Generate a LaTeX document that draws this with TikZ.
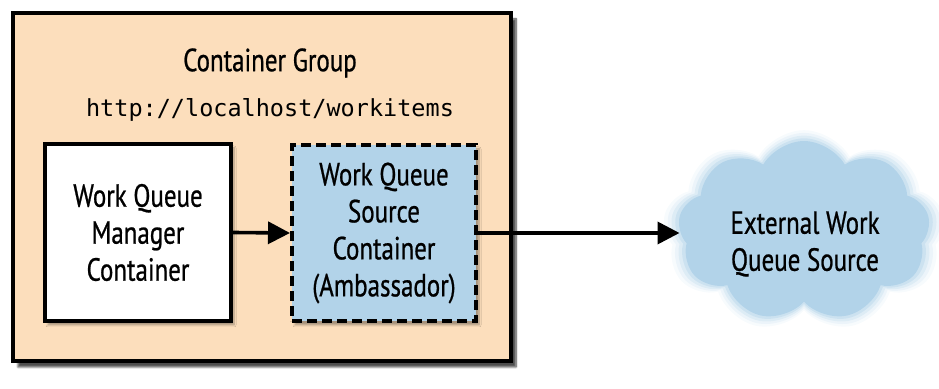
\documentclass[tikz,border=0pt]{standalone}
\usepackage{fontspec}
\setmainfont{PT Sans}[FakeStretch=0.78,FakeBold=0.7]
\setmonofont{DejaVu Sans Mono}
\usetikzlibrary{shadows.blur,shapes.symbols,arrows.meta}
\definecolor{peach}{RGB}{252,222,188}
\definecolor{lblue}{RGB}{178,211,233}
\tikzset{
  lbl/.style={font=\fontsize{32}{37}\selectfont, align=center},
  boxstyle/.style={draw=black, line width=4pt, inner sep=0pt, lbl,
    blur shadow={shadow xshift=3pt, shadow yshift=-4pt, shadow blur steps=6, shadow opacity=35}},
  arr/.style={line width=3.6pt, -{Triangle[length=22pt,width=22pt]}},
  cloudlayer/.style={cloud, cloud puffs=9, cloud puff arc=120, aspect=1.38, draw=none, inner sep=0pt}
}
\begin{document}
\begin{tikzpicture}[x=1pt,y=1pt]
\useasboundingbox (0,0) rectangle (939,388);
\node[boxstyle, fill=peach, minimum width=498pt, minimum height=348pt,
  blur shadow={shadow xshift=5pt, shadow yshift=-6pt, shadow blur steps=8, shadow opacity=45}] (grp) at (262,201) {};
\node[lbl] (title) at (270,325) {Container Group};
\node[font=\fontsize{23.5}{27}\ttfamily] (url) at (270,278) {http://localhost/workitems};
\node[boxstyle, fill=white, minimum width=186pt, minimum height=177pt] (mgr) at (138,155.5) {Work Queue\\Manager\\Container};
\node[boxstyle, fill=lblue, dash pattern=on 10pt off 5pt, minimum width=184pt, minimum height=176pt] (amb) at (384,155) {Work Queue\\Source\\Container\\(Ambassador)};
% cloud with soft edge
\foreach \s/\o in {1.12/0.10,1.09/0.16,1.06/0.25,1.03/0.4}{
  \node[cloudlayer, fill=lblue, fill opacity=\o, minimum width=\s*252pt, minimum height=\s*180pt] at (804,157) {};
}
\node[cloudlayer, fill=lblue, minimum width=252pt, minimum height=180pt] (ext) at (804,157) {};
\node[lbl] (extlbl) at (805,144) {External Work\\Queue Source};
\draw[arr] (mgr.east) -- (amb.west);
\draw[arr] (amb.east) -- (ext.west |- amb.east);
\end{tikzpicture}
\end{document}
